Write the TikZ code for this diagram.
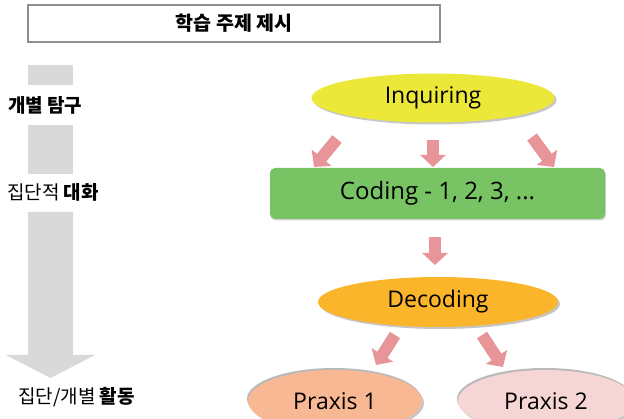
\documentclass[tikz,border=0pt]{standalone}
\usepackage{fontspec}
\setmainfont{Noto Sans CJK KR}
\newfontfamily\latinfont{Open Sans}
\usetikzlibrary{arrows.meta,positioning,shapes.geometric,shadows}
\definecolor{boxgray}{HTML}{8E8E8E}
\definecolor{stepgray}{HTML}{D9D9D9}
\definecolor{arrowpink}{HTML}{E8959A}
\definecolor{inqyellow}{HTML}{EBE83A}
\definecolor{codgreen}{HTML}{78C364}
\definecolor{decorange}{HTML}{FBB52B}
\definecolor{praxsalmon}{HTML}{F9B894}
\definecolor{praxpink}{HTML}{F6D6D5}

\begin{document}
\begin{tikzpicture}[
  x=1pt, y=-1pt,
  stage/.style={ellipse, inner sep=0pt, font=\latinfont\fontsize{23}{26}\selectfont,
    drop shadow={shadow xshift=2pt, shadow yshift=-2pt, opacity=0.45}},
  lowstage/.style={stage, drop shadow={shadow xshift=-1pt, shadow yshift=2pt, opacity=0.55}},
  flow/.style={line width=12pt, draw=arrowpink, -{Triangle[length=12pt,width=25pt]}},
  sidelabel/.style={anchor=west, inner sep=0pt, font=\fontsize{19}{22}\selectfont}
]
\useasboundingbox (0,0) rectangle (624,419);

% ==================
% Topic box
% ==================
\node[draw=boxgray, line width=2pt, minimum width=412pt, minimum height=37pt,
  font=\bfseries\fontsize{19.5}{22}\selectfont] (topic) at (234,23.5) {학습 주제 제시};

% ==================
% Left progress arrow
% ==================
\fill[stepgray] (28,65) rectangle (73,85);
\fill[stepgray] (28,125) rectangle (73,174);
\fill[stepgray] (28,212) -- (73,212) -- (73,355) -- (95,355) -- (50.5,378)
  -- (6,355) -- (28,355) -- cycle;

\node[sidelabel] (indiv) at (8,105) {\bfseries 개별 탐구};
\node[sidelabel] (group) at (7,192) {집단적 \textbf{대화}};
\node[sidelabel] (activ) at (18,397) {집단/개별 \textbf{활동}};

% ==================
% Stages
% ==================
\node[stage, fill=inqyellow, minimum width=243pt, minimum height=49pt] (inq) at (433,98) {Inquiring};
\node[rectangle, rounded corners=5pt, fill=codgreen, minimum width=335pt, minimum height=51pt,
  font=\latinfont\fontsize{24}{27}\selectfont,
  drop shadow={shadow xshift=1pt, shadow yshift=-1.5pt, opacity=0.35}] (cod) at (437.5,193.5) {Coding - 1, 2, 3, ...};
\node[stage, fill=decorange, minimum width=240pt, minimum height=50pt] (dec) at (438,302) {Decoding};
\node[lowstage, fill=praxsalmon, minimum width=174pt, minimum height=62pt] (prax1) at (335,401) {Praxis 1};
\node[lowstage, fill=praxpink, minimum width=176pt, minimum height=62pt] (prax2) at (546,401) {Praxis 2};

% ==================
% Flow arrows
% ==================
\coordinate (i1) at (337,139);
\coordinate (i2) at (433,140);
\coordinate (i3) at (532,137);
\coordinate (c1) at (314,167);
\coordinate (c2) at (433,167);
\coordinate (c3) at (554,167);
\coordinate (c4) at (435,237);
\coordinate (d0) at (435,265);
\coordinate (d1) at (395,335);
\coordinate (d2) at (482,335);
\coordinate (p1) at (376,365);
\coordinate (p2) at (503,367);

\draw[flow] (i1) -- (c1);
\draw[flow] (i2) -- (c2);
\draw[flow] (i3) -- (c3);
\draw[flow] (c4) -- (d0);
\draw[flow] (d1) -- (p1);
\draw[flow] (d2) -- (p2);
\end{tikzpicture}
\end{document}
